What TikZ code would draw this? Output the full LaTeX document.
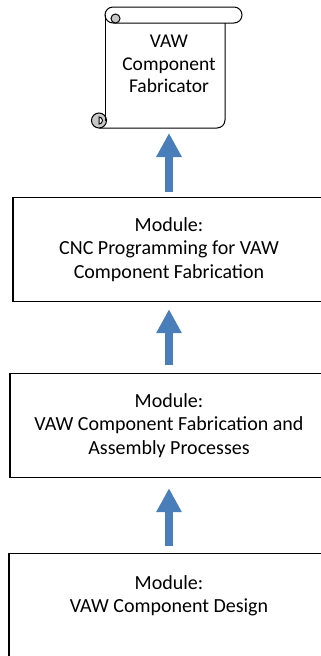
\documentclass[tikz,border=0pt]{standalone}
\usepackage{fontspec}
\setmainfont{Carlito}
\usetikzlibrary{arrows.meta}

\definecolor{arrowblue}{RGB}{74,126,187}
\definecolor{curlgray}{RGB}{200,200,200}

\tikzset{
  modbox/.style={draw, line width=1.2pt, align=center, inner sep=0pt,
    minimum height=104pt, font=\fontsize{20}{23.5}\selectfont},
  scrollline/.style={draw, line width=1pt},
  uparrow/.style={arrowblue, line width=8.5pt, -{Triangle[width=24pt,length=24pt]}},
}

\begin{document}
\begin{tikzpicture}[x=1pt,y=-1pt]

  \useasboundingbox (0,0) rectangle (321,656);
  \clip (0,0) rectangle (321,656);

  % --- Scroll (top) ---
  \draw[scrollline] (113,7) -- (234,7) arc[start angle=-90,end angle=90,radius=8] -- (113,23);
  \draw[scrollline] (113,7) arc[start angle=270,end angle=90,radius=8];
  \filldraw[scrollline, fill=curlgray] (115.5,18.5) circle[radius=4.5];
  \draw[scrollline] (225,23) -- (225,120) arc[start angle=0,end angle=90,radius=8] -- (99,128);
  \draw[scrollline] (105,15) -- (105,113);
  \filldraw[scrollline, fill=curlgray] (99,120.5) circle[radius=7.5];
  \filldraw[scrollline, fill=white] (99,117) arc[start angle=-90,end angle=90,radius=3.5] -- cycle;
  \draw[scrollline] (105,113) -- (105,120.5);
  \node[font=\fontsize{19.5}{22.5}\selectfont, align=center] (fabr) at (169,64)
    {VAW\\Component\\Fabricator};
  \coordinate (scrollbot) at (169,128);

  % --- Module boxes ---
  \node[modbox, minimum width=312pt, anchor=north] (cnc) at (169,197)
    {Module:\\CNC Programming for VAW\\Component Fabrication};
  \node[modbox, minimum width=318pt, anchor=north] (asm) at (169,373)
    {Module:\\VAW Component Fabrication and\\Assembly Processes};
  \node[modbox, minimum width=320pt, anchor=north] (des) at (169,553)
    {Module:\\VAW Component Design\\\mbox{}};

  % --- Block arrows ---
  \draw[uparrow, shorten <=5pt, shorten >=5pt] (cnc.north) -- (scrollbot);
  \draw[uparrow, shorten <=8pt, shorten >=7pt] (asm.north) -- (cnc.south);
  \draw[uparrow, shorten <=7pt, shorten >=10pt] (des.north) -- (asm.south);

\end{tikzpicture}
\end{document}
